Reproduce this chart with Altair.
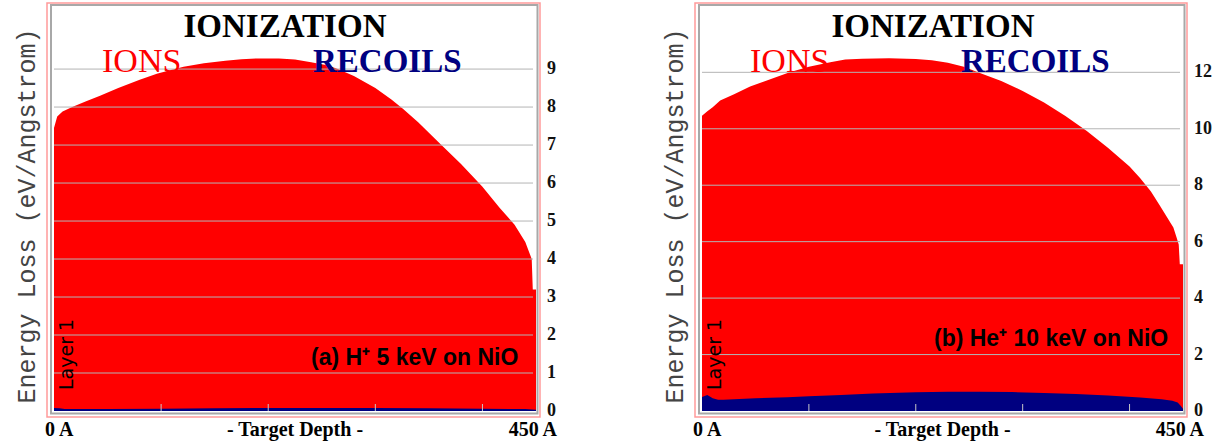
import altair as alt
import pandas as pd

# ---------------- data ----------------
# Panel (a): H+ 5 keV on NiO
depth_a_ions = [0, 3, 8, 17, 30, 43, 60, 80, 96, 110, 121, 140, 160, 175, 190, 210, 225, 240,
                255, 265, 280, 300, 315, 326, 340, 360, 380, 400, 416, 430, 440, 446, 447, 450]
ions_a = [7.45, 7.75, 7.88, 8.0, 8.15, 8.3, 8.5, 8.72, 8.88, 8.98, 9.06, 9.15, 9.22, 9.26, 9.28,
          9.28, 9.25, 9.18, 9.1, 9.0, 8.82, 8.5, 8.2, 7.95, 7.6, 7.05, 6.5, 5.9, 5.35, 4.9,
          4.45, 4.0, 3.2, 3.2]
depth_a_rec = [0, 5, 10, 50, 100, 150, 200, 250, 300, 350, 400, 440, 450]
recoils_a = [0.08, 0.07, 0.05, 0.05, 0.06, 0.07, 0.08, 0.08, 0.08, 0.07, 0.06, 0.05, 0.03]

# Panel (b): He+ 10 keV on NiO
depth_b_ions = [0, 5, 10, 17, 30, 45, 60, 82, 100, 120, 134, 150, 175, 200, 215, 230, 245, 260,
                280, 300, 320, 340, 360, 380, 400, 410, 420, 428, 441, 444, 446, 447, 450]
ions_b = [10.46, 10.62, 10.76, 11.0, 11.22, 11.5, 11.7, 12.0, 12.2, 12.36, 12.45, 12.48, 12.5,
          12.47, 12.43, 12.34, 12.2, 11.98, 11.69, 11.34, 10.93, 10.45, 9.92, 9.32, 8.66, 8.25,
          7.78, 7.3, 6.5, 6.15, 5.9, 5.2, 5.2]
depth_b_rec = [0, 5, 10, 15, 20, 30, 50, 80, 100, 130, 160, 200, 230, 260, 290, 320, 350, 380,
               410, 430, 440, 445, 448, 450]
recoils_b = [0.5, 0.57, 0.45, 0.4, 0.4, 0.42, 0.45, 0.49, 0.52, 0.57, 0.62, 0.66, 0.68, 0.68,
             0.67, 0.64, 0.6, 0.55, 0.48, 0.42, 0.36, 0.3, 0.18, 0.08]

ticks_a = [0, 1, 2, 3, 4, 5, 6, 7, 8, 9]
ticks_b = [0, 2, 4, 6, 8, 10, 12]
depth_ticks = [100, 200, 300, 400]

title_text = "IONIZATION"
ions_label = "IONS"
recoils_label = "RECOILS"
y_title = "Energy Loss (eV/Angstrom)"
layer_label = "Layer 1"
x_left, x_mid, x_right = "0 A", "- Target Depth -", "450 A"
note_a = "(a) H\u207a 5 keV on NiO"
note_b = "(b) He\u207a 10 keV on NiO"

RED = "#ff0000"
NAVY = "#000080"


def one(v="x"):
    return pd.DataFrame({"t": [v]})


def txt(s, x, y, **kw):
    kw.setdefault("baseline", "alphabetic")
    return alt.Chart(one(s)).mark_text(**kw).encode(
        text="t:N", x=alt.value(x), y=alt.value(y))


def frame(x1, x2, y1, y2, color, w):
    return alt.Chart(one()).mark_rect(fillOpacity=0, stroke=color, strokeWidth=w).encode(
        x=alt.value(x1), x2=alt.value(x2), y=alt.value(y1), y2=alt.value(y2))


def panel(ox, xr, ymax, d_ions, ions, d_rec, rec, yticks, note, note_x, note_y):
    # ox: data-area left pixel; xr: data-area right pixel
    xs = alt.Scale(domain=[0, 450], range=[ox, xr], nice=False, zero=False)
    ys = alt.Scale(domain=[0, ymax], range=[411, 6], nice=False, zero=False)
    layers = []
    layers.append(frame(ox - 7, xr + 4, 3, 417, "#ff9a9a", 1.5))
    layers.append(frame(ox - 3, xr + 1.5, 5, 413.5, "#a8a8a8", 2))
    df_i = pd.DataFrame({"d": d_ions, "v": ions})
    layers.append(alt.Chart(df_i).mark_area(color=RED, interpolate="linear").encode(
        x=alt.X("d:Q", scale=xs, axis=None), y=alt.Y("v:Q", scale=ys, axis=None)))
    df_r = pd.DataFrame({"d": d_rec, "v": rec})
    layers.append(alt.Chart(df_r).mark_area(color=NAVY, interpolate="linear").encode(
        x=alt.X("d:Q", scale=xs, axis=None), y=alt.Y("v:Q", scale=ys, axis=None)))
    df_g = pd.DataFrame({"v": [t for t in yticks if t > 0]})
    layers.append(alt.Chart(df_g).mark_rule(color="#b4b4b4", strokeWidth=1).encode(
        y=alt.Y("v:Q", scale=ys, axis=None), x=alt.value(ox), x2=alt.value(xr - 3)))
    df_t = pd.DataFrame({"d": depth_ticks})
    layers.append(alt.Chart(df_t).mark_rule(color="#c8c8c8", strokeWidth=1).encode(
        x=alt.X("d:Q", scale=xs, axis=None), y=alt.value(404), y2=alt.value(411)))
    df_l = pd.DataFrame({"v": yticks, "lab": [str(t) for t in yticks]})
    layers.append(alt.Chart(df_l).mark_text(
        font="Liberation Serif", fontWeight="bold", fontSize=18, align="left",
        baseline="middle", color="#111").encode(
        y=alt.Y("v:Q", scale=ys, axis=None), text="lab:N", x=alt.value(xr + 11)))
    cx = ox + 231
    layers.append(txt(title_text, cx, 37, font="Liberation Serif", fontWeight="bold",
                      fontSize=33, align="center", color="#000"))
    layers.append(txt(ions_label, ox + 48, 72, font="Liberation Serif", fontSize=34,
                      align="left", color=RED))
    layers.append(txt(recoils_label, ox + 259, 72, font="Liberation Serif", fontWeight="bold",
                      fontSize=33, align="left", color=NAVY))
    layers.append(txt(y_title, ox - 19, 216, font="Liberation Mono", fontSize=25, angle=270,
                      align="center", color="#444"))
    layers.append(txt(layer_label, ox + 19, 390, font="DejaVu Sans", fontSize=19, angle=270,
                      align="left", color="#000"))
    layers.append(txt(note, note_x, note_y, font="Liberation Sans", fontWeight="bold",
                      fontSize=23, align="left", color="#000"))
    layers.append(txt(x_left, ox - 9, 436, font="Liberation Serif", fontWeight="bold",
                      fontSize=20, align="left", color="#000"))
    layers.append(txt(x_mid, (ox + xr) / 2, 436, font="Liberation Serif", fontWeight="bold",
                      fontSize=20, align="center", color="#000"))
    layers.append(txt(x_right, xr + 21, 436, font="Liberation Serif", fontWeight="bold",
                      fontSize=20, align="right", color="#000"))
    return layers


layers = panel(54, 536, 10.66, depth_a_ions, ions_a, depth_a_rec, recoils_a, ticks_a,
               note_a, 311, 365)
layers += panel(702, 1183, 14.35, depth_b_ions, ions_b, depth_b_rec, recoils_b, ticks_b,
                note_b, 934, 346)

chart = alt.layer(*layers).resolve_scale(x="independent", y="independent").properties(
    width=1215, height=444, autosize=alt.AutoSizeParams(type="none"), padding=0,
    background="white"
).configure_view(stroke=None)

chart.save("out.html", embed_options={"renderer": "svg", "actions": False})
